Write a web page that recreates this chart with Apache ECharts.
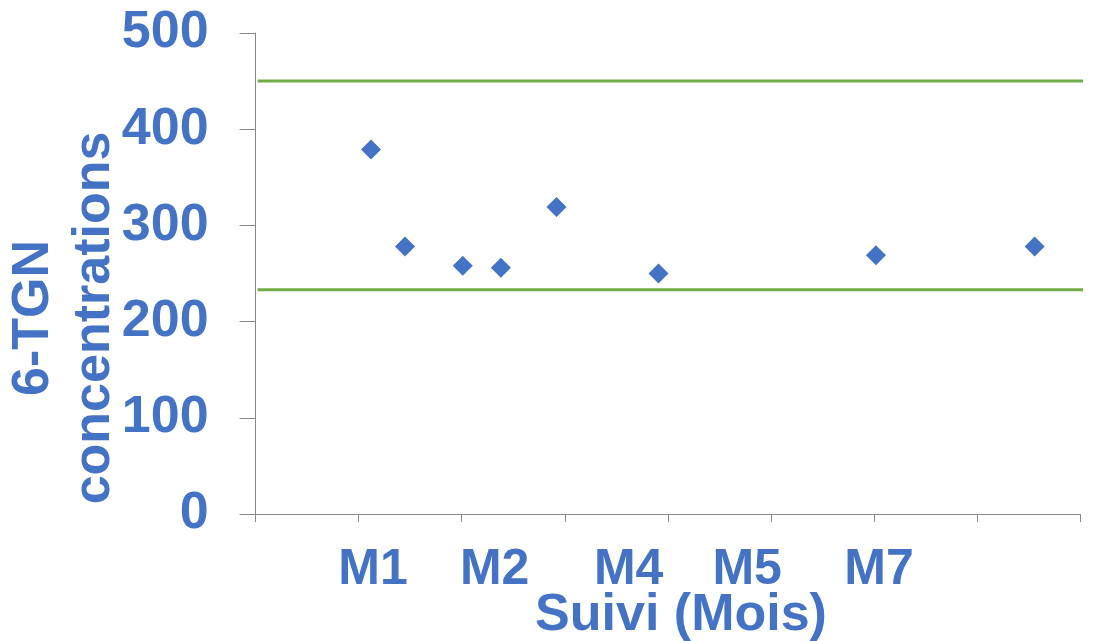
<!DOCTYPE html>
<html>
<head>
<meta charset="utf-8">
<script src="https://cdn.jsdelivr.net/npm/echarts@6/dist/echarts.min.js"></script>
<style>
html,body{margin:0;padding:0;background:#fff;}
#chart{width:1112px;height:641px;}
</style>
</head>
<body>
<div id="chart"></div>
<script>
// Data
var pointX = [1.12, 1.45, 2.01, 2.38, 2.92, 3.91, 6.02, 7.56];
var pointY = [379, 278, 258, 256, 319, 250, 269, 278];
var upperLimit = 450;
var lowerLimit = 233;
var monthLabels = ['M1', 'M2', 'M4', 'M5', 'M7'];
var monthLabelX = [1.14, 2.32, 3.62, 4.77, 6.05];
var yTicks = [0, 100, 200, 300, 400, 500];
var yTitle = '6-TGN\nconcentrations';
var xTitle = 'Suivi (Mois)';

var BLUE = '#4472C4';
var GREEN = '#70AD47';
var AXIS = '#898989';
var FONT = '"Liberation Sans", Arial, sans-serif';

var chart = echarts.init(document.getElementById('chart'));

var scatterData = pointX.map(function (x, i) { return [x, pointY[i]]; });
var labelData = monthLabelX.map(function (x, i) { return { value: [x, 0], name: monthLabels[i] }; });

var option = {
  animation: false,
  backgroundColor: '#fff',
  grid: { left: 255.6, right: 32, top: 33, bottom: 127, containLabel: false },
  xAxis: {
    type: 'value', min: 0, max: 8, interval: 1,
    axisLine: { show: true, lineStyle: { color: AXIS, width: 1 } },
    axisTick: { show: true, length: 8, lineStyle: { color: AXIS } },
    axisLabel: { show: false },
    splitLine: { show: false }
  },
  yAxis: {
    type: 'value', min: yTicks[0], max: yTicks[yTicks.length - 1], interval: 100,
    axisLine: { show: true, lineStyle: { color: AXIS, width: 1 } },
    axisTick: { show: true, length: 16, lineStyle: { color: AXIS } },
    axisLabel: { show: true, margin: 47, color: BLUE, fontSize: 52, fontWeight: 'bold', fontFamily: FONT },
    splitLine: { show: false }
  },
  series: [
    {
      type: 'line', silent: true, clip: false, symbol: 'none',
      lineStyle: { color: GREEN, width: 3 },
      data: [[0.02, upperLimit], [8.4, upperLimit]]
    },
    {
      type: 'line', silent: true, clip: false, symbol: 'none',
      lineStyle: { color: GREEN, width: 3 },
      data: [[0.02, lowerLimit], [8.4, lowerLimit]]
    },
    {
      type: 'scatter', symbol: 'diamond', symbolSize: 20,
      itemStyle: { color: BLUE, opacity: 1 },
      data: scatterData, z: 5
    },
    {
      type: 'scatter', silent: true, clip: false, symbolSize: 0.1,
      itemStyle: { color: 'rgba(0,0,0,0)', opacity: 1 },
      data: labelData,
      label: {
        show: true, position: 'inside', offset: [0, 56],
        formatter: function (p) { return p.name; },
        color: BLUE, opacity: 1, fontSize: 50, fontWeight: 'bold', fontFamily: FONT,
        align: 'center', verticalAlign: 'middle'
      }
    }
  ],
  graphic: [
    {
      type: 'text', x: 64.5, y: 318, rotation: Math.PI / 2,
      style: {
        text: yTitle, fill: BLUE, fontSize: 52, fontWeight: 'bold', fontFamily: FONT,
        lineHeight: 61, align: 'center', verticalAlign: 'middle',
        textAlign: 'center', textVerticalAlign: 'middle'
      }
    },
    {
      type: 'text', x: 681, y: 616,
      style: {
        text: xTitle, fill: BLUE, fontSize: 52, fontWeight: 'bold', fontFamily: FONT,
        align: 'center', verticalAlign: 'middle',
        textAlign: 'center', textVerticalAlign: 'middle'
      }
    }
  ]
};
chart.setOption(option);
</script>
</body>
</html>
